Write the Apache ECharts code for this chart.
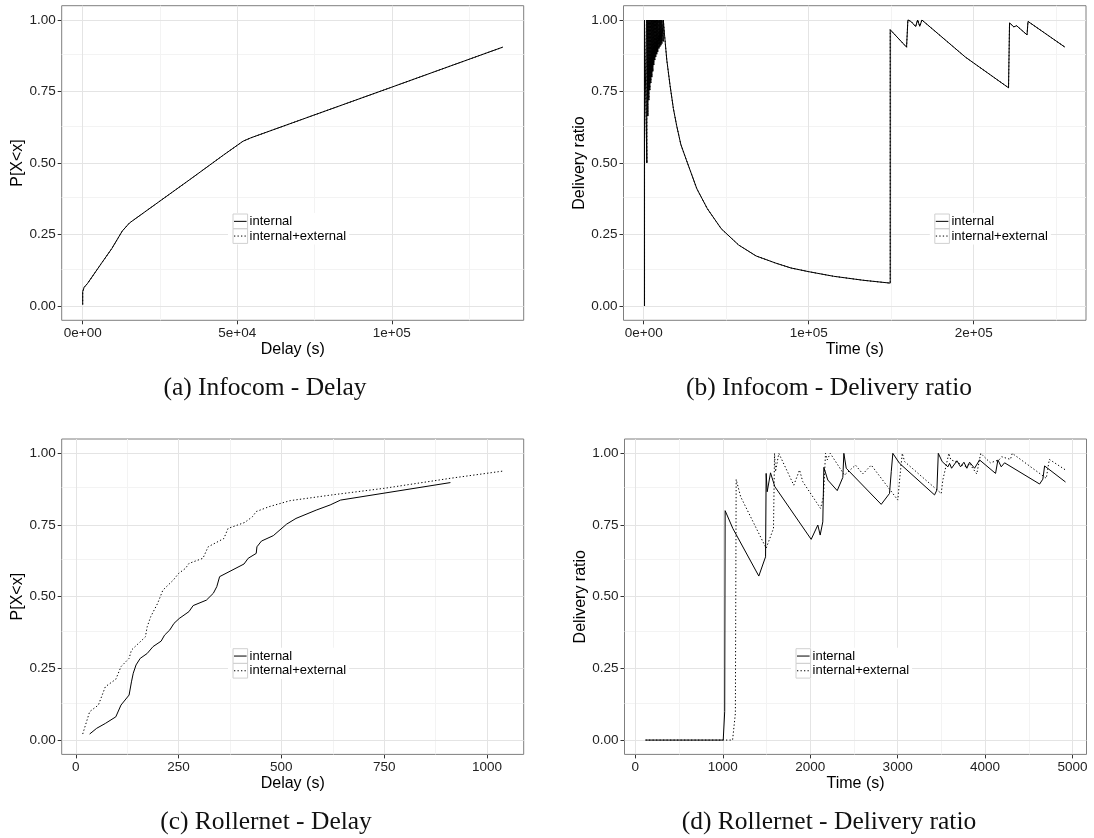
<!DOCTYPE html>
<html><head><meta charset="utf-8">
<script src="https://cdn.jsdelivr.net/npm/echarts@6/dist/echarts.min.js"></script>
<style>html,body{margin:0;padding:0;background:#fff}#c{width:1094px;height:838px}</style>
</head><body><div id="c"></div>
<script>
// ---------------- DATA ----------------
const seriesNames = ['internal', 'internal+external'];
const yTicks = [0, 0.25, 0.5, 0.75, 1];
const yMinor = [0.125, 0.375, 0.625, 0.875];
const yLimits = [0, 1];

// (a) Infocom - Delay : CDF
const infocomDelayInternal = [[0,0.005],[0,0.05],[450,0.065],[1570,0.079],[6050,0.149],[9430,0.201],[12800,0.262],[15100,0.29],[24100,0.36],[35300,0.447],[45450,0.527],[51850,0.576],[54400,0.588],[74700,0.667],[99700,0.764],[119700,0.842],[135900,0.905]];
const infocomDelayExternal = [[0,0.005],[0,0.05],[450,0.065],[1570,0.079],[6050,0.149],[9430,0.201],[12800,0.262],[15100,0.29],[24100,0.36],[35300,0.447],[45450,0.527],[51850,0.576],[54400,0.588],[74700,0.667],[99700,0.764],[119700,0.842],[135900,0.905]];
const infocomDelayXTicks = [0, 50000, 100000];
const infocomDelayXMinor = [25000, 75000, 125000];

// (b) Infocom - Delivery ratio
const infocomRatioInternal = [[500,0],[500,1],[1900,0.5],[1900,1],[2500,0.664],[2500,1],[3100,0.72],[3100,1],[3700,0.755],[3700,1],[4300,0.78],[4300,1],[4900,0.8],[4900,1],[5500,0.82],[5500,1],[6100,0.843],[6100,1],[6700,0.86],[6700,1],[7300,0.872],[7300,1],[7900,0.88],[7900,1],[8500,0.889],[8500,1],[9200,0.9],[9200,1],[9800,0.907],[9800,1],[10400,0.912],[10400,1],[11000,0.918],[11000,1],[11800,0.925],[11900,1],[12600,0.95],[14000,0.86],[16000,0.77],[18000,0.69],[20000,0.63],[22500,0.565],[25900,0.51],[32200,0.41],[38600,0.34],[47000,0.27],[57600,0.213],[68100,0.175],[80000,0.15],[89200,0.133],[100000,0.12],[115000,0.104],[133000,0.09],[149400,0.08],[149400,0.966],[159300,0.905],[160100,1],[162000,0.995],[163100,0.99],[164800,0.977],[166000,1],[167300,0.978],[168600,1],[195000,0.87],[221100,0.763],[221700,0.99],[224300,0.976],[226000,0.98],[232300,0.948],[232900,0.995],[255300,0.905]];
const infocomRatioExternal = [[500,0],[500,1],[1900,0.5],[1900,1],[2500,0.664],[2500,1],[3100,0.72],[3100,1],[3700,0.755],[3700,1],[4300,0.78],[4300,1],[4900,0.8],[4900,1],[5500,0.82],[5500,1],[6100,0.843],[6100,1],[6700,0.86],[6700,1],[7300,0.872],[7300,1],[7900,0.88],[7900,1],[8500,0.889],[8500,1],[9200,0.9],[9200,1],[9800,0.907],[9800,1],[10400,0.912],[10400,1],[11000,0.918],[11000,1],[11800,0.925],[11900,1],[12600,0.95],[14000,0.86],[16000,0.77],[18000,0.69],[20000,0.63],[22500,0.565],[25900,0.51],[32200,0.41],[38600,0.34],[47000,0.27],[57600,0.213],[68100,0.175],[80000,0.15],[89200,0.133],[100000,0.12],[115000,0.104],[133000,0.09],[149400,0.08],[149400,0.966],[159300,0.905],[160100,1],[162000,0.995],[163100,0.99],[164800,0.977],[166000,1],[167300,0.978],[168600,1],[195000,0.87],[221100,0.763],[221700,0.99],[224300,0.976],[226000,0.98],[232300,0.948],[232900,0.995],[255300,0.905]];
const infocomRatioXTicks = [0, 100000, 200000];
const infocomRatioXMinor = [50000, 150000, 250000];

// (c) Rollernet - Delay : CDF
const rollernetDelayInternal = [[33.8,0.021],[50.9,0.041],[72,0.058],[97.4,0.081],[110,0.122],[129.7,0.157],[135.5,0.203],[139.8,0.233],[146.6,0.262],[156.8,0.285],[173.7,0.302],[188,0.326],[207.6,0.345],[216,0.366],[228.7,0.384],[238.9,0.407],[251.6,0.424],[275.3,0.448],[285.5,0.469],[317.7,0.488],[334.6,0.512],[343,0.535],[349.9,0.57],[409.2,0.614],[419.4,0.634],[438.9,0.651],[440.6,0.674],[451.6,0.694],[480.5,0.713],[512.7,0.753],[535.6,0.773],[584.8,0.802],[618.7,0.82],[644.1,0.837],[911.2,0.898]];
const rollernetDelayExternal = [[16.9,0.021],[33.8,0.099],[55,0.122],[72,0.186],[97.4,0.212],[110,0.256],[129.7,0.285],[135.5,0.314],[152.5,0.337],[169.4,0.36],[173.7,0.395],[182.2,0.43],[199.2,0.477],[211.9,0.523],[237.3,0.558],[250,0.581],[267,0.599],[275.3,0.616],[309.3,0.634],[322,0.674],[360.2,0.703],[370.3,0.738],[411,0.759],[429.7,0.779],[438.9,0.797],[470.3,0.814],[521.2,0.835],[622.9,0.855],[750,0.878],[911.2,0.913],[1038.3,0.938]];
const rollernetDelayXTicks = [0, 250, 500, 750, 1000];
const rollernetDelayXMinor = [125, 375, 625, 875];

// (d) Rollernet - Delivery ratio
const rollernetRatioInternal = [[116,0],[1005,0],[1022,0.1],[1027,0.8],[1115,0.738],[1412,0.572],[1489,0.639],[1496,0.93],[1508,0.866],[1546,0.932],[1595,0.884],[2011,0.7],[2087,0.75],[2114,0.715],[2144,0.761],[2156,0.951],[2201,0.907],[2309,0.87],[2373,0.916],[2385,1],[2412,0.948],[2812,0.822],[2907,0.86],[2927,0.936],[2945,1],[3022,0.965],[3422,0.855],[3449,0.872],[3465,1],[3510,0.971],[3575,0.953],[3594,0.965],[3617,0.948],[3678,0.974],[3720,0.953],[3758,0.969],[3792,0.948],[3823,0.969],[3880,0.948],[3937,0.977],[4120,0.93],[4147,0.977],[4185,0.953],[4223,0.967],[4624,0.893],[4661,0.91],[4681,0.956],[4920,0.9]];
const rollernetRatioExternal = [[116,0],[1112,0],[1144,0.093],[1153,0.909],[1204,0.849],[1496,0.669],[1580,0.738],[1592,1],[1603,0.936],[1641,1],[1812,0.889],[1878,0.942],[1915,0.901],[2118,0.808],[2152,0.849],[2175,1],[2195,0.977],[2229,1],[2392,0.924],[2518,0.959],[2602,0.928],[2698,0.959],[3002,0.837],[3022,0.907],[3053,1],[3080,0.971],[3498,0.86],[3517,0.907],[3586,1],[3609,0.977],[3660,0.972],[3780,0.953],[3820,0.965],[3905,0.928],[3950,1],[4060,0.967],[4160,0.977],[4190,0.988],[4290,0.979],[4311,1],[4700,0.913],[4735,0.979],[4920,0.942]];
const rollernetRatioXTicks = [0, 1000, 2000, 3000, 4000, 5000];
const rollernetRatioXMinor = [500, 1500, 2500, 3500, 4500];

const captions = ['(a) Infocom - Delay', '(b) Infocom - Delivery ratio', '(c) Rollernet - Delay', '(d) Rollernet - Delivery ratio'];
const xTitles = ['Delay (s)', 'Time (s)', 'Delay (s)', 'Time (s)'];
const yTitles = ['P[X<x]', 'Delivery ratio', 'P[X<x]', 'Delivery ratio'];

// ---------------- LAYOUT / STYLE ----------------
const SANS = '"Liberation Sans", Arial, Helvetica, sans-serif';
const SERIF = '"Liberation Serif", "DejaVu Serif", serif';
const sci = v => v.toExponential(0).replace(/e([+-])(\d)$/, 'e$10$2');
const plain = v => String(v);

const panels = [
  {data:[infocomDelayInternal, infocomDelayExternal], xt:infocomDelayXTicks, xm:infocomDelayXMinor, fmt:sci,
   box:{left:61.7, top:5.7, width:462, height:314.6}, legend:[228,213], cap:[265,388]},
  {data:[infocomRatioInternal, infocomRatioExternal], xt:infocomRatioXTicks, xm:infocomRatioXMinor, fmt:sci,
   box:{left:623.5, top:5.7, width:462.5, height:314.6}, legend:[929.8,213], cap:[829,388]},
  {data:[rollernetDelayInternal, rollernetDelayExternal], xt:rollernetDelayXTicks, xm:rollernetDelayXMinor, fmt:plain,
   box:{left:61.7, top:439, width:462, height:315.4}, legend:[228,647.7], cap:[266,822]},
  {data:[rollernetRatioInternal, rollernetRatioExternal], xt:rollernetRatioXTicks, xm:rollernetRatioXMinor, fmt:plain,
   box:{left:624.5, top:439, width:462, height:315.4}, legend:[791,647.7], cap:[829,822]}
];

function expand(lo, hi) { const p = (hi - lo) * 0.05; return [lo - p, hi + p]; }
function xExtent(list) {
  let mn = Infinity, mx = -Infinity;
  list.forEach(s => s.forEach(p => { mn = Math.min(mn, p[0]); mx = Math.max(mx, p[0]); }));
  return expand(mn, mx);
}
const yExt = expand(yLimits[0], yLimits[1]);

const MAJOR = '#e4e4e4', MINOR = '#f3f3f3';
const DOT = [1.3, 2.2];
const lineStyles = [
  {color:'#000', width:1, type:'solid'},
  {color:'#000', width:1, type:DOT}
];
const KEY_W = 14.6, KEY_H = 14.7;

const grids = [], xAxes = [], yAxes = [], series = [], legends = [], graphics = [];

panels.forEach((p, i) => {
  const ext = xExtent(p.data);
  grids.push(Object.assign({show:true, borderColor:'#7f7f7f', borderWidth:1, backgroundColor:'#fff'}, p.box));
  xAxes.push({
    type:'value', gridIndex:i, min:ext[0], max:ext[1],
    axisLine:{show:false, onZero:false},
    axisTick:{show:true, length:4, inside:false, customValues:p.xt, lineStyle:{color:'#333', width:1}},
    axisLabel:{show:true, customValues:p.xt, formatter:p.fmt, margin:6, fontSize:13.5, color:'#222', fontFamily:SANS},
    splitLine:{show:false},
    name:xTitles[i], nameLocation:'middle', nameGap:21,
    nameTextStyle:{fontSize:16, color:'#000', fontFamily:SANS}
  });
  yAxes.push({
    type:'value', gridIndex:i, min:yExt[0], max:yExt[1],
    axisLine:{show:false, onZero:false},
    axisTick:{show:true, length:4, inside:false, customValues:yTicks, lineStyle:{color:'#333', width:1}},
    axisLabel:{show:true, customValues:yTicks, formatter:v => v.toFixed(2), margin:6, fontSize:13.5, color:'#222', fontFamily:SANS},
    splitLine:{show:false},
    name:yTitles[i], nameLocation:'middle', nameGap:34, nameRotate:90,
    nameTextStyle:{fontSize:16, color:'#000', fontFamily:SANS}
  });
  // gridlines (drawn through the axis scales)
  const ml = [];
  p.xm.forEach(v => ml.push({xAxis:v, lineStyle:{color:MINOR, width:1, type:'solid'}}));
  yMinor.forEach(v => ml.push({yAxis:v, lineStyle:{color:MINOR, width:1, type:'solid'}}));
  p.xt.forEach(v => ml.push({xAxis:v, lineStyle:{color:MAJOR, width:1, type:'solid'}}));
  yTicks.forEach(v => ml.push({yAxis:v, lineStyle:{color:MAJOR, width:1, type:'solid'}}));
  series.push({
    type:'line', name:'grid' + i, xAxisIndex:i, yAxisIndex:i, data:[], silent:true, symbol:'none', z:1,
    markLine:{silent:true, z:1, symbol:['none','none'], animation:false, label:{show:false},
      emphasis:{disabled:true}, data:ml}
  });
  p.data.forEach((d, k) => {
    series.push({
      type:'line', name:seriesNames[k], xAxisIndex:i, yAxisIndex:i, data:d,
      symbol:'none', showSymbol:false, z:3, silent:true, animation:false,
      lineStyle:lineStyles[k], itemStyle:{color:'#000'}, emphasis:{disabled:true}
    });
  });
  legends.push({
    orient:'vertical', left:p.legend[0], top:p.legend[1], icon:'rect',
    itemWidth:KEY_W - 3, itemHeight:KEY_H, itemGap:0,
    itemStyle:{opacity:0}, lineStyle:{opacity:0},
    padding:[1, 3, 1, 5], backgroundColor:'#fff', selectedMode:false, z:4,
    textStyle:{fontSize:13, color:'#000', fontFamily:SANS},
    data:seriesNames
  });
  // legend keys (ggplot-style boxed line samples)
  const ix = p.legend[0] + 5, r0 = p.legend[1] + 1;
  [0, 1].forEach(r => {
    const cy = r0 + r * KEY_H + KEY_H / 2;
    graphics.push({
      type:'rect', z:10, silent:true,
      shape:{x:ix, y:r0 + r * KEY_H, width:KEY_W, height:KEY_H},
      style:{fill:null, stroke:'#d0d0d0', lineWidth:1}
    });
    graphics.push({
      type:'line', z:11, silent:true,
      shape:{x1:ix + 1, y1:cy, x2:ix + KEY_W - 1, y2:cy},
      style:{stroke:'#000', lineWidth:1, lineDash:r === 0 ? null : DOT}
    });
  });
  graphics.push({
    type:'text', x:p.cap[0], y:p.cap[1], silent:true,
    style:{text:captions[i], font:'25.5px ' + SERIF, fill:'#111',
      textAlign:'center', textVerticalAlign:'middle', align:'center', verticalAlign:'middle'}
  });
});

const chart = echarts.init(document.getElementById('c'), null, {renderer:'canvas', width:1094, height:838});
chart.setOption({
  animation:false,
  backgroundColor:'#fff',
  grid:grids, xAxis:xAxes, yAxis:yAxes, series:series, legend:legends,
  graphic:{elements:graphics}
});
</script></body></html>
